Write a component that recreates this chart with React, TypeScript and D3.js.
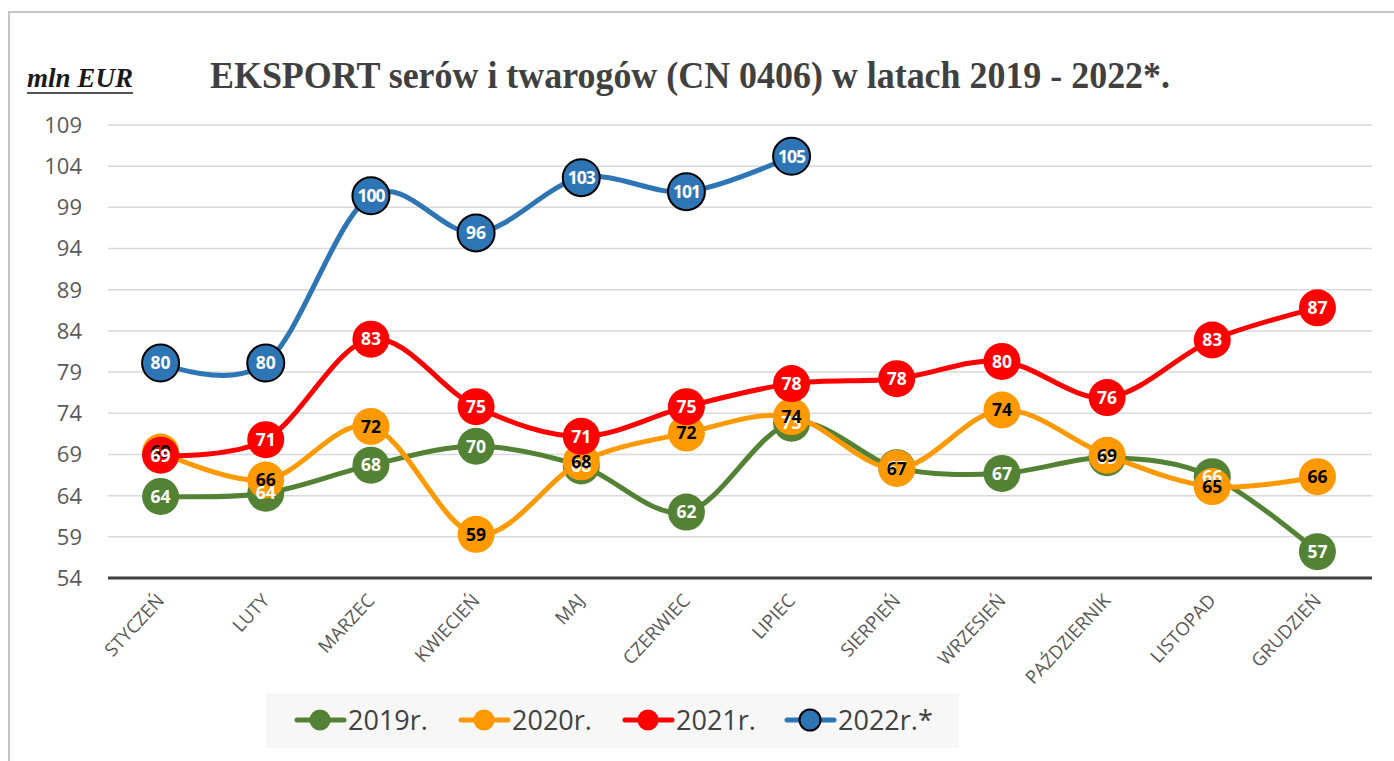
import React from "react";
import * as d3 from "d3";

const months = ["STYCZEŃ","LUTY","MARZEC","KWIECIEŃ","MAJ","CZERWIEC","LIPIEC","SIERPIEŃ","WRZESIEŃ","PAŹDZIERNIK","LISTOPAD","GRUDZIEŃ"];
const yTicks = [54,59,64,69,74,79,84,89,94,99,104,109];

const v2019 = [63.9,64.3,67.7,70.0,67.6,62.0,72.8,67.4,66.7,68.6,66.3,57.2];
const v2020 = [69.3,65.9,72.4,59.3,68.1,71.6,73.6,67.3,74.4,68.9,65.1,66.3];
const v2021 = [68.9,70.8,83.0,74.8,71.2,74.8,77.6,78.2,80.3,75.9,82.9,86.8];
const v2022 = [80.1,80.1,100.4,95.9,102.6,100.9,105.2];

const seriesNames = ["2019r.","2020r.","2021r.","2022r.*"];
const seriesColors = ["#548235","#FF9900","#FF0000","#2E75B6"];
const labelColors = ["#FFFFFF","#000000","#FFFFFF","#FFFFFF"];
const seriesValues = [v2019, v2020, v2021, v2022];

export default function App() {
  const W = 1394, H = 761;
  const x = d3.scalePoint<string>().domain(months).range([108, 1370]).padding(0.5);
  const y = d3.scaleLinear().domain([54, 109]).range([578, 125]);
  const line = d3.line<number>()
    .x((_, i) => x(months[i]) as number)
    .y((d) => y(d))
    .curve(d3.curveCatmullRom.alpha(0));

  const legendX = [320, 484, 648, 810];

  return (
    <svg width={W} height={H} style={{ position: "absolute", left: 0, top: 0, background: "#fff" }}
      fontFamily="'Open Sans', sans-serif">
      <rect x={0} y={0} width={W} height={H} fill="#fff" />
      <rect x={9} y={12} width={W + 20} height={H + 20} fill="none" stroke="#c4c4c4" strokeWidth={2} />

      {/* title */}
      <text x={210} y={88} fontFamily="'Liberation Serif', 'Times New Roman', serif" fontWeight="bold"
        fontSize={38} fill="#404040" textLength={960} lengthAdjust="spacingAndGlyphs">
        EKSPORT serów i twarogów (CN 0406) w latach 2019 - 2022*.
      </text>
      <text x={27} y={87} fontFamily="'Liberation Serif', 'Times New Roman', serif" fontWeight="bold"
        fontStyle="italic" fontSize={27} fill="#1a1a1a" textLength={106} lengthAdjust="spacingAndGlyphs">
        mln EUR
      </text>
      <line x1={27} x2={133} y1={93} y2={93} stroke="#1a1a1a" strokeWidth={1.6} />

      {/* gridlines and y ticks */}
      {yTicks.map((t) => (
        <g key={t}>
          {t !== 54 && <line x1={108} x2={1372} y1={y(t)} y2={y(t)} stroke="#d9d9d9" strokeWidth={1.5} />}
          <text x={82} y={y(t)} dy="0.36em" textAnchor="end" fontSize={22} fill="#595959">{t}</text>
        </g>
      ))}
      <line x1={108} x2={1372} y1={y(54)} y2={y(54)} stroke="#404040" strokeWidth={3} />

      {/* x labels */}
      {months.map((m) => (
        <text key={m} transform={`translate(${x(m)},${597}) rotate(-47)`} textAnchor="end" dy="0.35em"
          fontSize={18.5} fill="#595959">{m}</text>
      ))}

      {/* series */}
      {seriesValues.map((vals, si) => (
        <g key={si}>
          <path d={line(vals) as string} fill="none" stroke={seriesColors[si]} strokeWidth={5} strokeLinecap="round" />
          {vals.map((v, i) => (
            <circle key={i} cx={x(months[i]) as number} cy={y(v)} r={18.5} fill={seriesColors[si]}
              stroke={si === 3 ? "#000" : "none"} strokeWidth={2} />
          ))}
        </g>
      ))}
      {/* labels */}
      {seriesValues.map((vals, si) => (
        <g key={"l" + si}>
          {vals.map((v, i) => (
            <text key={i} x={x(months[i]) as number} y={y(v)} dy="0.36em" textAnchor="middle"
              fontSize={17.5} fontWeight="bold" fill={labelColors[si]}
              letterSpacing={Math.round(v) >= 100 ? -1 : 0}>{Math.round(v)}</text>
          ))}
        </g>
      ))}

      {/* legend */}
      <rect x={266} y={693} width={693} height={55} fill="#f7f7f7" />
      {seriesNames.map((n, i) => (
        <g key={n}>
          <line x1={legendX[i] - 23} x2={legendX[i] + 24} y1={720} y2={720} stroke={seriesColors[i]} strokeWidth={5} strokeLinecap="round" />
          <circle cx={legendX[i]} cy={720} r={10.5} fill={seriesColors[i]} stroke={i === 3 ? "#000" : "none"} strokeWidth={2} />
          <text x={legendX[i] + 28} y={720} dy="0.36em" fontSize={27} fill="#404040">{n}</text>
        </g>
      ))}
    </svg>
  );
}
